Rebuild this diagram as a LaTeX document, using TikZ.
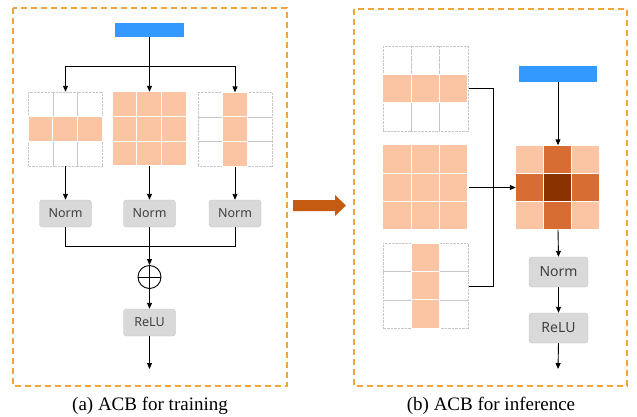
\documentclass[tikz,border=0pt]{standalone}
\usepackage{fontspec}
\usepackage{xcolor}
\usepackage{tikz}
\usetikzlibrary{arrows.meta, calc}
\newfontfamily\capfont{Liberation Serif}
\newfontfamily\boxfont{Noto Sans}
\definecolor{inblue}{HTML}{3399FF}
\definecolor{cellA}{HTML}{FBC4A3}
\definecolor{cellB}{HTML}{D76D33}
\definecolor{cellC}{HTML}{8A3300}
\definecolor{panelorange}{HTML}{F2A53A}
\definecolor{bigarrow}{HTML}{C55A11}
\definecolor{boxgray}{HTML}{D9D9D9}
\definecolor{boxline}{HTML}{C4C4C4}
\tikzset{
  panel/.style={draw=panelorange, line width=1.3pt, dash pattern=on 6pt off 4pt},
  inbar/.style={fill=inblue, inner sep=0pt},
  gridnode/.style={inner sep=0pt, minimum width=#1, minimum height=#1},
  empty/.style={draw=gray!45, line width=0.45pt, dash pattern=on 0.7pt off 0.7pt},
  kernel/.style={draw=white, line width=1pt, fill=cellA},
  opbox/.style={draw=boxline, fill=boxgray, rounded corners=3pt, inner sep=0pt, text=black!75},
  arr/.style={-{Triangle[length=6pt,width=5pt]}, line width=0.9pt},
  con/.style={line width=0.9pt},
  caption/.style={font=\capfont\fontsize{19}{22}\selectfont, anchor=base}
}

\begin{document}
\begin{tikzpicture}[x=1pt, y=-1pt]
    \useasboundingbox (0,0) rectangle (637,416);
    % dashed frames
    \draw[panel] (13,8) rectangle (287,386);
    \draw[panel] (354,9) rectangle (627,386);

    % (a) training
    \node[inbar, minimum width=69pt, minimum height=14pt] (ina) at (149.5,30) {};
    \coordinate (split) at (149.5,66);
    \node[gridnode=74pt] (gha) at (65.5,129) {};
    \node[gridnode=74pt] (gfa) at (149.5,129) {};
    \node[gridnode=74pt] (gva) at (235,129.5) {};
    \begin{scope}[shift={(gha.north west)}, x=24.67pt, y=-24.67pt]
        \foreach \c in {0,1,2} \foreach \r in {0,1,2} \draw[empty] (\c,\r) rectangle ++(1,1);
        \foreach \c in {0,1,2} \draw[kernel] (\c,1) rectangle ++(1,1);
    \end{scope}
    \begin{scope}[shift={(gfa.north west)}, x=24.67pt, y=-24.67pt]
        \foreach \c in {0,1,2} \foreach \r in {0,1,2} \draw[kernel] (\c,\r) rectangle ++(1,1);
    \end{scope}
    \begin{scope}[shift={(gva.north west)}, x=24.67pt, y=-24.67pt]
        \foreach \c in {0,1,2} \foreach \r in {0,1,2} \draw[empty] (\c,\r) rectangle ++(1,1);
        \foreach \r in {0,1,2} \draw[kernel] (1,\r) rectangle ++(1,1);
    \end{scope}
    \node[opbox, minimum width=52pt, minimum height=27pt, font=\boxfont\fontsize{12.5}{14}\selectfont] (n1) at (65.5,213.5) {Norm};
    \node[opbox, minimum width=52pt, minimum height=27pt, font=\boxfont\fontsize{12.5}{14}\selectfont] (n2) at (149.5,213.5) {Norm};
    \node[opbox, minimum width=52pt, minimum height=27pt, font=\boxfont\fontsize{12.5}{14}\selectfont] (n3) at (235,213.5) {Norm};
    \coordinate (merge) at (149.5,246);
    \node[circle, draw, line width=0.9pt, minimum size=23pt, inner sep=0pt] (sum) at (149.5,277) {};
    \node[opbox, minimum width=52pt, minimum height=27pt, font=\boxfont\fontsize{12.5}{14}\selectfont] (relua) at (149.5,322.5) {ReLU};
    \coordinate (outa) at (149.5,369);

    \draw[con] (ina.south) -- (split);
    \draw[arr] (split) -| (gha.north);
    \draw[arr] (split) -- (gfa.north);
    \draw[arr] (split) -| (gva.north);
    \draw[arr] (gha.south) -- (n1.north);
    \draw[arr] (gfa.south) -- (n2.north);
    \draw[arr] (gva.south) -- (n3.north);
    \draw[con] (n1.south) |- (merge);
    \draw[con] (n3.south) |- (merge);
    \draw[arr] (n2.south) -- (sum.north);
    \draw[line width=0.9pt] (sum.north) -- (sum.south) (sum.west) -- (sum.east);
    \draw[arr] (sum.south) -- (relua.north);
    \draw[arr] (relua.south) -- (outa);

    % big arrow
    \fill[bigarrow] (293,200) -- (335,200) -- (335,195) -- (346,205.5) -- (335,216) -- (335,211) -- (293,211) -- cycle;

    % (b) inference
    \node[gridnode=85pt] (ghb) at (425.5,88.5) {};
    \node[gridnode=85pt] (gfb) at (425.5,187.5) {};
    \node[gridnode=85pt] (gvb) at (425.5,286) {};
    \begin{scope}[shift={(ghb.north west)}, x=28.33pt, y=-28.33pt]
        \foreach \c in {0,1,2} \foreach \r in {0,1,2} \draw[empty] (\c,\r) rectangle ++(1,1);
        \foreach \c in {0,1,2} \draw[kernel] (\c,1) rectangle ++(1,1);
    \end{scope}
    \begin{scope}[shift={(gfb.north west)}, x=28.33pt, y=-28.33pt]
        \foreach \c in {0,1,2} \foreach \r in {0,1,2} \draw[kernel] (\c,\r) rectangle ++(1,1);
    \end{scope}
    \begin{scope}[shift={(gvb.north west)}, x=28.33pt, y=-28.33pt]
        \foreach \c in {0,1,2} \foreach \r in {0,1,2} \draw[empty] (\c,\r) rectangle ++(1,1);
        \foreach \r in {0,1,2} \draw[kernel] (1,\r) rectangle ++(1,1);
    \end{scope}
    \node[inbar, minimum width=78pt, minimum height=16pt] (inb) at (558,74) {};
    \node[gridnode=84pt] (gm) at (558,187.5) {};
    \begin{scope}[shift={(gm.north west)}, x=28pt, y=-28pt]
        \foreach \c/\r/\s in {0/0/A,1/0/B,2/0/A,0/1/B,1/1/C,2/1/B,0/2/A,1/2/B,2/2/A}
            \draw[draw=white, line width=1pt, fill=cell\s] (\c,\r) rectangle ++(1,1);
    \end{scope}
    \node[opbox, minimum width=59pt, minimum height=30pt, font=\boxfont\fontsize{14}{16}\selectfont] (nb) at (558.5,272) {Norm};
    \node[opbox, minimum width=59pt, minimum height=30pt, font=\boxfont\fontsize{14}{16}\selectfont] (relub) at (558.5,328) {ReLU};
    \coordinate (outb) at (558,369);

    \draw[con] ($(ghb.east)+(1,0)$) -- ++(24,0) |- ($(gvb.east)+(1,0)$);
    \draw[arr] ($(gfb.east)+(1,0)$) -- (gm.west);
    \draw[arr] (inb.south) -- (gm.north);
    \draw[arr] (gm.south) -- (nb.north);
    \draw[arr] (nb.south) -- (relub.north);
    \draw[arr] (relub.south) -- (outb);

    % captions
    \node[caption] (capa) at (150,410) {(a) ACB for training};
    \node[caption] (capb) at (491,410) {(b) ACB for inference};
\end{tikzpicture}
\end{document}
